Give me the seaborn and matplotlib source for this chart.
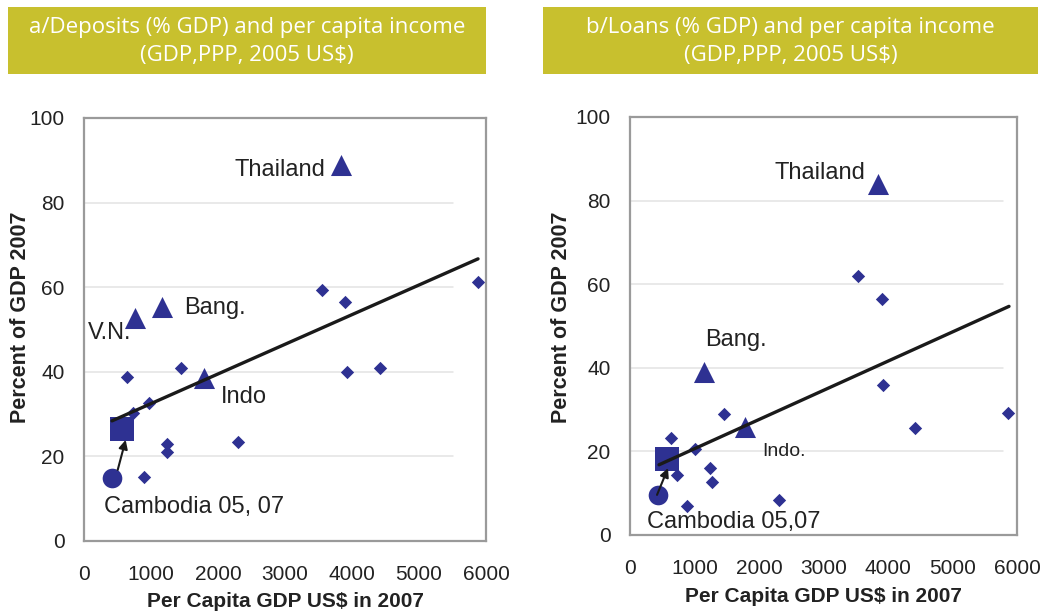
import numpy as np
import pandas as pd
import matplotlib
matplotlib.use("Agg")
import matplotlib.pyplot as plt
from matplotlib.patches import Rectangle
import seaborn as sns

# ---------------- data ----------------
x_ticks = [0, 1000, 2000, 3000, 4000, 5000, 6000]
y_ticks = [0, 20, 40, 60, 80, 100]

# Panel a: deposits (% GDP)
dep_other_x = [642, 1448, 970, 731, 1239, 1239, 896, 2299, 3552, 3896, 3925, 4418, 5881]
dep_other_y = [38.8, 40.9, 32.6, 30.3, 22.9, 21.1, 15.1, 23.4, 59.3, 56.5, 40.0, 40.9, 61.2]
dep_peer_names = ["Thailand", "V.N.", "Bang.", "Indo"]
dep_peer_x = [3836, 761, 1164, 1791]
dep_peer_y = [88.9, 52.7, 55.3, 38.5]
dep_camb_x = [418, 567]      # Cambodia 2005, 2007
dep_camb_y = [14.9, 26.5]
dep_trend_x = [418, 5881]
dep_trend_y = [28.4, 66.7]

# Panel b: loans (% GDP)
loan_other_x = [636, 1457, 1008, 729, 1240, 1271, 884, 2310, 3535, 3902, 3923, 4411, 5860]
loan_other_y = [23.2, 28.9, 20.6, 14.4, 16.0, 12.7, 6.9, 8.4, 61.9, 56.4, 35.8, 25.7, 29.3]
loan_peer_names = ["Thailand", "Bang.", "Indo."]
loan_peer_x = [3845, 1147, 1783]
loan_peer_y = [84.0, 39.0, 25.8]
loan_camb_x = [434, 574]
loan_camb_y = [9.6, 18.2]
loan_trend_x = [450, 5876]
loan_trend_y = [16.8, 54.7]

titles = ["a/Deposits (% GDP) and per capita income", "b/Loans (% GDP) and per capita income"]
subtitle = "(GDP,PPP, 2005 US$)"
xlabel = "Per Capita GDP US$ in 2007"
ylabel = "Percent of GDP 2007"

# ---------------- style ----------------
sns.set_style("white")
plt.rcParams["font.family"] = ["Liberation Sans", "DejaVu Sans"]

NAVY = "#2E3192"
OLIVE = "#C8C02E"
GRID = "#E3E3E3"
SPINE = "#9A9A9A"

fig = plt.figure(figsize=(10.42, 6.15), dpi=100)
ax1 = fig.add_axes([84/1042, 1-541/615, 402/1042, 423/615])
ax2 = fig.add_axes([630/1042, 1-535/615, 387/1042, 418/615])


def draw_panel(ax, ox, oy, px, py, cx, cy, tx, ty, grid_end, ylab_xy, xlab_xy):
    ax.set_xlim(0, 6000)
    ax.set_ylim(0, 100)
    for g in y_ticks[1:-1]:
        ax.axhline(g, xmin=0, xmax=grid_end, color=GRID, lw=1.1, zorder=0)
    sns.lineplot(x=tx, y=ty, ax=ax, color="#1a1a1a", lw=2.4, zorder=3)
    sns.scatterplot(x=ox, y=oy, ax=ax, marker="D", s=46, color=NAVY, linewidth=0, zorder=2)
    sns.scatterplot(x=px, y=py, ax=ax, marker="^", s=230, color=NAVY, linewidth=0, zorder=2)
    sns.scatterplot(x=[cx[0]], y=[cy[0]], ax=ax, marker="o", s=200, color=NAVY, linewidth=0, zorder=2)
    sns.scatterplot(x=[cx[1]], y=[cy[1]], ax=ax, marker="s", s=320, color=NAVY, linewidth=0, zorder=2)
    ax.set_xticks(x_ticks)
    ax.set_yticks(y_ticks)
    ax.tick_params(axis="both", which="both", length=5, width=1, color="#BBBBBB",
                   labelsize=15, labelcolor="#222222", direction="out")
    ax.tick_params(axis="x", pad=12)
    ax.tick_params(axis="y", pad=9)
    for s in ax.spines.values():
        s.set_color(SPINE)
        s.set_linewidth(1.6)
    ax.set_xlabel(xlabel, fontsize=15, fontweight="bold", color="#222222")
    ax.set_ylabel(ylabel, fontsize=15.5, fontweight="bold", color="#222222")
    ax.yaxis.set_label_coords(*ylab_xy)
    ax.xaxis.set_label_coords(*xlab_xy)
    ax.yaxis.label.set_va("center")
    ax.xaxis.label.set_va("center")
    ax.grid(False)


draw_panel(ax1, dep_other_x, dep_other_y, dep_peer_x, dep_peer_y,
           dep_camb_x, dep_camb_y, dep_trend_x, dep_trend_y, 0.918,
           (-0.157, 0.530), (0.5, -0.142))
draw_panel(ax2, loan_other_x, loan_other_y, loan_peer_x, loan_peer_y,
           loan_camb_x, loan_camb_y, loan_trend_x, loan_trend_y, 0.964,
           (-0.178, 0.522), (0.5, -0.148))

lab = dict(fontsize=17, color="#222222")
# panel a labels
ax1.text(3597, 87.7, dep_peer_names[0], ha="right", va="center", **lab)
ax1.text(60, 49.2, dep_peer_names[1], ha="left", va="center", **lab)
ax1.text(1493, 55.1, dep_peer_names[2], ha="left", va="center", **lab)
ax1.text(2045, 34.0, dep_peer_names[3], ha="left", va="center", **lab)
ax1.text(299, 8.0, "Cambodia 05, 07", ha="left", va="center", **lab)
ax1.annotate("", xy=(622, 23.9), xytext=(503, 16.8),
             arrowprops=dict(arrowstyle="-|>", color="#1a1a1a", lw=1.5, mutation_scale=13,
                             shrinkA=0, shrinkB=0), zorder=4)
# panel b labels
ax2.text(3643, 86.6, loan_peer_names[0], ha="right", va="center", **lab)
ax2.text(1163, 46.7, loan_peer_names[1], ha="left", va="center", **lab)
ax2.text(2047, 19.9, loan_peer_names[2], ha="left", va="center", fontsize=14, color="#222222")
ax2.text(264, 3.1, "Cambodia 05,07", ha="left", va="center", **lab)
ax2.annotate("", xy=(589, 16.0), xytext=(419, 9.6),
             arrowprops=dict(arrowstyle="-|>", color="#1a1a1a", lw=1.5, mutation_scale=13,
                             shrinkA=0, shrinkB=0), zorder=4)

# title boxes
for (x0, w), t in zip([(8, 478), (543, 495)], titles):
    fig.patches.append(Rectangle((x0/1042, 1-74/615), w/1042, 67/615,
                                 transform=fig.transFigure, facecolor=OLIVE,
                                 edgecolor="none", zorder=0))
    cx = (x0 + w/2)/1042
    fig.text(cx, 1-28/615, t, ha="center", va="center", color="white",
             fontsize=16, family=["Open Sans", "DejaVu Sans"])
    fig.text(cx, 1-55/615, subtitle, ha="center", va="center", color="white",
             fontsize=16, family=["Open Sans", "DejaVu Sans"])

fig.savefig("out.png", dpi=100)
